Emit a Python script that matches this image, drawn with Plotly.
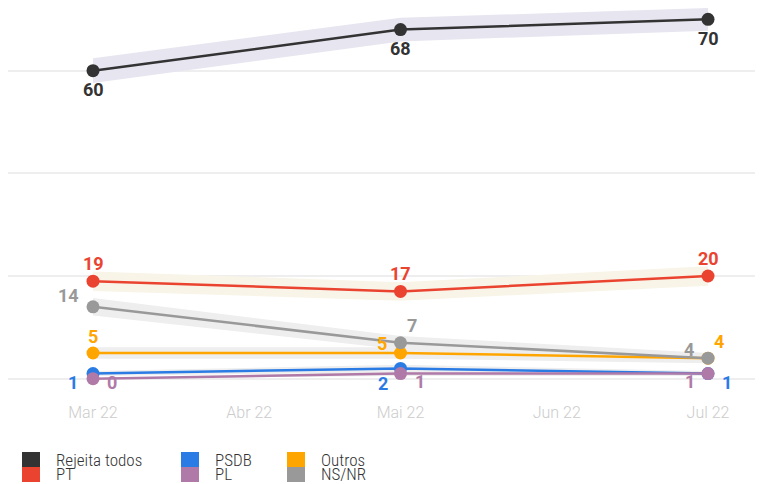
import plotly.graph_objects as go

# ---- data ----
dates = ["2022-03-01", "2022-05-01", "2022-07-01"]
series_names = ["Rejeita todos", "PT", "PSDB", "PL", "Outros", "NS/NR"]
rejeita_todos = [60, 68, 70]
pt = [19, 17, 20]
psdb = [1, 2, 1]
pl = [0, 1, 1]
outros = [5, 5, 4]
ns_nr = [14, 7, 4]
# half-width of the shaded band (margin)
rejeita_band = [2.4, 2.3, 2.2]
pt_band = [1.9, 1.8, 1.9]
psdb_band = [0.5, 0.7, 0.5]
pl_band = [0.0, 0.5, 0.5]
outros_band = [1.1, 1.1, 1.0]
ns_nr_band = [1.7, 1.3, 1.0]
tick_dates = ["2022-03-01", "2022-04-01", "2022-05-01", "2022-06-01", "2022-07-01"]
tick_labels = ["Mar 22", "Abr 22", "Mai 22", "Jun 22", "Jul 22"]

values = [rejeita_todos, pt, psdb, pl, outros, ns_nr]
bands = [rejeita_band, pt_band, psdb_band, pl_band, outros_band, ns_nr_band]

# ---- styles ----
colors = ["#333333", "#ea4330", "#2b7be4", "#b07aa8", "#ffa500", "#999999"]
band_colors = ["#e7e5f0", "#f8f4e7", "#eeeeee", "#eeeeee", "#eeeeee", "#eeeeee"]
# label offsets (px) per series per point: (xshift, yshift)
label_offsets = [
    [(0, -19), (0, -19), (0, -19)],
    [(0, 18), (0, 18), (0, 18)],
    [(-20, -9), (-18, -15), (19, -9)],
    [(19, -4), (19, -8), (-18, -8)],
    [(0, 17), (-19, 10), (11, 17)],
    [(-25, 11), (11, 17), (-19, 9)],
]

fig = go.Figure()

# bands first
for vals, bw, bc in zip(values, bands, band_colors):
    upper = [v + b for v, b in zip(vals, bw)]
    lower = [v - b for v, b in zip(vals, bw)]
    fig.add_trace(go.Scatter(
        x=dates + dates[::-1], y=upper + lower[::-1],
        fill="toself", fillcolor=bc, line=dict(width=0),
        mode="lines", hoverinfo="skip", showlegend=False))

for name, vals, c in zip(series_names, values, colors):
    fig.add_trace(go.Scatter(
        x=dates, y=vals, name=name, mode="lines+markers",
        line=dict(color=c, width=2.5),
        marker=dict(color=c, size=13),
        showlegend=False))

annotations = []
for vals, c, offs in zip(values, colors, label_offsets):
    for d, v, (dx, dy) in zip(dates, vals, offs):
        annotations.append(dict(
            x=d, y=v, xref="x", yref="y", text=str(v), showarrow=False,
            xshift=dx, yshift=dy,
            font=dict(family="Roboto", size=18, color=c, weight="bold")))

# manual legend (column-major, 3 columns x 2 rows); positions in page pixels
PAGE_OFF = 8.0        # browser body margin
PLOT_W, PLOT_H = 755.0, 387.0
def px_x(p):
    return (p - PAGE_OFF) / PLOT_W
def px_y(p):
    return (PLOT_H - (p - PAGE_OFF)) / PLOT_H

legend_cols = [22, 181, 287]
legend_rows = [452, 467]
shapes = []
for i, (name, c) in enumerate(zip(series_names, colors)):
    col = [0, 0, 1, 1, 2, 2][i]
    row = i % 2
    x0 = legend_cols[col]
    y0 = legend_rows[row]
    shapes.append(dict(type="rect", xref="paper", yref="paper",
                       x0=px_x(x0), x1=px_x(x0 + 18), y0=px_y(y0), y1=px_y(y0 + 15),
                       fillcolor=c, line=dict(width=0)))
    annotations.append(dict(
        x=px_x(x0 + 32), y=px_y(y0 + 7.5), xref="paper", yref="paper",
        xanchor="left", yanchor="middle", text=name, showarrow=False,
        font=dict(family="Roboto Condensed, Liberation Sans Narrow, Roboto", size=17,
                  color="#333333", weight=300)))

fig.update_layout(
    width=755, height=476,
    margin=dict(l=0, r=0, t=0, b=89),
    paper_bgcolor="white", plot_bgcolor="white",
    showlegend=False,
    annotations=annotations,
    shapes=shapes,
    xaxis=dict(
        type="date",
        range=["2022-02-12 03:20", "2022-07-11 21:50"],
        tickvals=tick_dates, ticktext=tick_labels,
        showgrid=False, zeroline=False, showline=False, ticks="",
        ticklabelstandoff=6,
        tickfont=dict(family="Roboto", size=16, color="#cccccc", weight=300),
    ),
    yaxis=dict(
        range=[-3.18, 72.21],
        tickvals=[0, 20, 40, 60],
        showticklabels=False,
        showgrid=True, gridcolor="#eeeeee", gridwidth=2,
        zeroline=False, showline=False, ticks="",
    ),
)

fig.write_html("out.html")
